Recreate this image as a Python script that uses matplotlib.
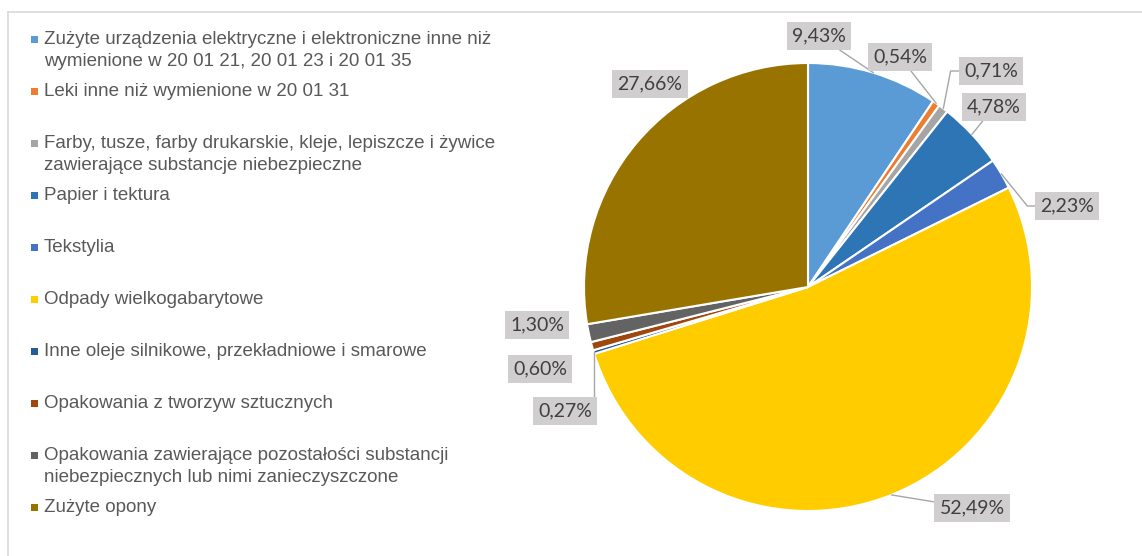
import matplotlib
matplotlib.use('Agg')
import numpy as np
import matplotlib.pyplot as plt
import matplotlib.patches as mpatches

W, H = 1142, 556

# ── DATA ──
categories = [
    "Zużyte urządzenia elektryczne i elektroniczne inne niż\nwymienione w 20 01 21, 20 01 23 i 20 01 35",
    "Leki inne niż wymienione w 20 01 31",
    "Farby, tusze, farby drukarskie, kleje, lepiszcze i żywice\nzawierające substancje niebezpieczne",
    "Papier i tektura",
    "Tekstylia",
    "Odpady wielkogabarytowe",
    "Inne oleje silnikowe, przekładniowe i smarowe",
    "Opakowania z tworzyw sztucznych",
    "Opakowania zawierające pozostałości substancji\nniebezpiecznych lub nimi zanieczyszczone",
    "Zużyte opony",
]
shares = [9.43, 0.54, 0.71, 4.78, 2.23, 52.49, 0.27, 0.60, 1.30, 27.66]

# ── STYLE / LAYOUT ──
colors = ['#5B9BD5', '#ED7D31', '#A5A5A5', '#2E75B6', '#4472C4',
          '#FFCC00', '#255E91', '#9E480E', '#636363', '#997300']
# label box centres in pixels (from top-left)
label_pos = [(819, 36), (900, 57), (991, 71), (994, 107), (1067, 206),
             (972, 508), (565, 411), (540, 369), (537, 325), (650, 84)]
# leader line connection per label (None = no leader)
leader = ['arc3', 'arc3', 'angle,angleA=0,angleB=79,rad=0', 'arc3',
          'angle,angleA=0,angleB=-51,rad=0', 'arc3',
          'angle,angleA=0,angleB=90,rad=0', None, None, None]

cx, cy, r = 808, 287, 224

fig = plt.figure(figsize=(W / 100, H / 100), dpi=100)
fig.patch.set_facecolor('white')
ax = fig.add_axes([0, 0, 1, 1])

wedges, _ = ax.pie(shares, colors=colors, startangle=90, counterclock=False,
                   center=(cx, H - cy), radius=r,
                   wedgeprops=dict(edgecolor='white', linewidth=1.5))
ax.set_xlim(0, W)
ax.set_ylim(0, H)
ax.set_aspect('auto')
ax.axis('off')

# data labels
for w, v, (lx, ly), conn in zip(wedges, shares, label_pos, leader):
    mid = np.deg2rad((w.theta1 + w.theta2) / 2)
    edge = (cx + r * np.cos(mid), H - cy + r * np.sin(mid))
    txt = f"{v:.2f}%".replace('.', ',')
    box = dict(boxstyle='square,pad=0.28', fc='#D0CECE', ec='none')
    if conn:
        ax.annotate(txt, xy=edge, xytext=(lx, H - ly), ha='center', va='center',
                    fontsize=14, family='Lato', color='#404040', bbox=box,
                    arrowprops=dict(arrowstyle='-', color='#A6A6A6', lw=1,
                                    shrinkA=0, shrinkB=0, connectionstyle=conn))
    else:
        ax.text(lx, H - ly, txt, ha='center', va='center', fontsize=14,
                family='Lato', color='#404040', bbox=box)

# legend (drawn by hand, Excel style)
for i, (lab, col) in enumerate(zip(categories, colors)):
    y0 = 39 + 52 * i
    ax.add_patch(mpatches.Rectangle((31, H - y0 - 3.5), 7, 7, fc=col, ec='none'))
    for k, line in enumerate(lab.split('\n')):
        ax.text(44, H - (y0 + 22 * k), line, ha='left', va='center',
                fontsize=13.5, family='Liberation Sans', color='#595959')

# chart area border
ax.plot([7.5, 7.5], [H - 11.5, -5], color='#D9D9D9', lw=1.2, clip_on=False)
ax.plot([7.5, W + 5], [H - 11.5, H - 11.5], color='#D9D9D9', lw=1.2, clip_on=False)

fig.savefig('out.png', dpi=100, facecolor='white')
